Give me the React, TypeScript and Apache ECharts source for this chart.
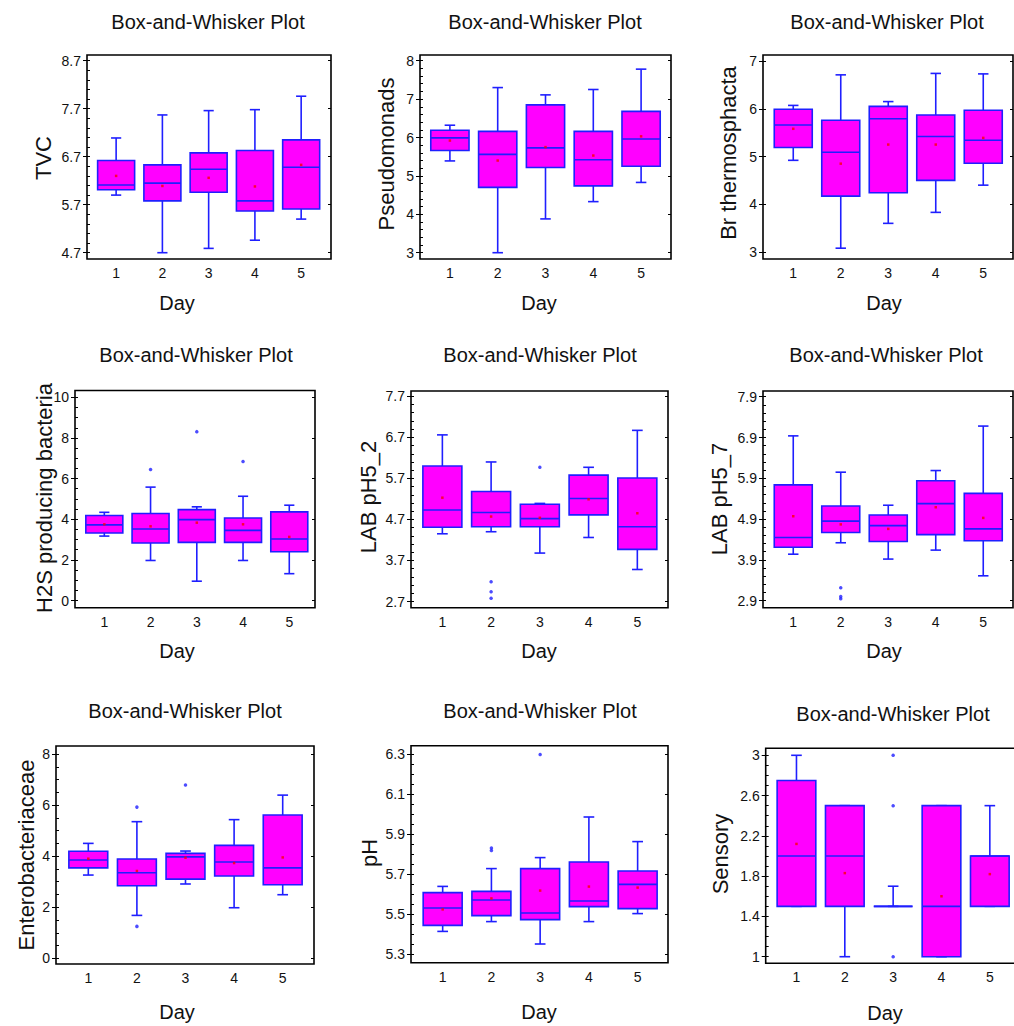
import React, { useEffect, useRef } from 'react';
import * as echarts from 'echarts';

// ---------- data ----------
const DAYS = ['1', '2', '3', '4', '5'];
const TITLE = 'Box-and-Whisker Plot';
const X_NAME = 'Day';

// each box: [min whisker, Q1, median, Q3, max whisker]
const TVC_STATS = [[5.90, 6.01, 6.11, 6.62, 7.09], [4.70, 5.78, 6.15, 6.53, 7.57], [4.79, 5.96, 6.44, 6.78, 7.66], [4.96, 5.57, 5.78, 6.83, 7.68], [5.40, 5.61, 6.48, 7.05, 7.96]];
const TVC_MEANS = [6.30, 6.09, 6.26, 6.08, 6.53];
const TVC_OUTLIERS: number[][] = [];
const TVC_TICKS = [4.7, 8.7, 1, 5]; // first tick, last tick, step, minor splits

const PSEUDO_STATS = [[5.39, 5.66, 5.99, 6.19, 6.32], [3.00, 4.70, 5.56, 6.16, 7.30], [3.88, 5.22, 5.73, 6.85, 7.11], [4.33, 4.74, 5.42, 6.16, 7.25], [4.83, 5.25, 5.96, 6.68, 7.78]];
const PSEUDO_MEANS = [5.92, 5.40, 5.75, 5.53, 6.03];
const PSEUDO_OUTLIERS: number[][] = [];
const PSEUDO_TICKS = [3, 8, 1, 5];

const BRT_STATS = [[4.92, 5.19, 5.66, 5.99, 6.07], [3.08, 4.17, 5.09, 5.76, 6.71], [3.60, 4.24, 5.79, 6.05, 6.15], [3.83, 4.50, 5.42, 5.87, 6.74], [4.40, 4.86, 5.34, 5.97, 6.73]];
const BRT_MEANS = [5.58, 4.85, 5.25, 5.25, 5.39];
const BRT_OUTLIERS: number[][] = [];
const BRT_TICKS = [3, 7, 1, 1];

const H2S_STATS = [[3.17, 3.32, 3.72, 4.18, 4.34], [1.97, 2.83, 3.52, 4.28, 5.58], [0.95, 2.86, 3.98, 4.47, 4.61], [1.97, 2.86, 3.45, 4.06, 5.13], [1.32, 2.40, 3.03, 4.36, 4.69]];
const H2S_MEANS = [3.75, 3.65, 3.83, 3.75, 3.13];
const H2S_OUTLIERS = [[1, 6.45], [2, 8.31], [3, 6.84]];
const H2S_TICKS = [0, 10, 2, 4];

const LAB52_STATS = [[4.35, 4.51, 4.93, 6.00, 6.76], [4.40, 4.52, 4.87, 5.38, 6.10], [3.88, 4.52, 4.72, 5.07, 5.09], [4.26, 4.81, 5.21, 5.78, 5.97], [3.48, 3.97, 4.52, 5.71, 6.87]];
const LAB52_MEANS = [5.23, 4.77, 4.74, 5.19, 4.85];
const LAB52_OUTLIERS = [[1, 3.18], [1, 2.94], [1, 2.78], [2, 5.97]];
const LAB52_TICKS = [2.7, 7.7, 1, 5];

const LAB57_STATS = [[4.04, 4.21, 4.45, 5.74, 6.94], [4.32, 4.57, 4.85, 5.22, 6.05], [3.92, 4.35, 4.74, 5.00, 5.24], [4.14, 4.52, 5.28, 5.84, 6.09], [3.51, 4.37, 4.66, 5.53, 7.18]];
const LAB57_MEANS = [4.97, 4.77, 4.66, 5.19, 4.93];
const LAB57_OUTLIERS = [[1, 3.22], [1, 3.0], [1, 2.95]];
const LAB57_TICKS = [2.9, 7.9, 1, 5];

const ENT_STATS = [[3.26, 3.54, 3.85, 4.19, 4.50], [1.68, 2.84, 3.35, 3.89, 5.35], [2.91, 3.10, 3.97, 4.11, 4.20], [1.98, 3.22, 3.77, 4.42, 5.43], [2.49, 2.88, 3.54, 5.61, 6.39]];
const ENT_MEANS = [3.90, 3.42, 3.94, 3.73, 3.95];
const ENT_OUTLIERS = [[1, 5.92], [1, 1.25], [2, 6.79]];
const ENT_TICKS = [0, 8, 2, 4];

const PH_STATS = [[5.413, 5.443, 5.530, 5.607, 5.638], [5.462, 5.492, 5.570, 5.613, 5.727], [5.350, 5.472, 5.505, 5.727, 5.782], [5.462, 5.537, 5.565, 5.760, 5.985], [5.502, 5.527, 5.648, 5.715, 5.862]];
const PH_MEANS = [5.523, 5.578, 5.617, 5.637, 5.632];
const PH_OUTLIERS = [[1, 5.830], [1, 5.817], [2, 6.298]];
const PH_TICKS = [5.3, 6.3, 0.2, 4];

const SENS_STATS = [[1.5, 1.5, 2.0, 2.75, 3.0], [1.0, 1.5, 2.0, 2.5, 2.5], [1.5, 1.5, 1.5, 1.5, 1.7], [1.0, 1.0, 1.5, 2.5, 2.5], [1.5, 1.5, 2.0, 2.0, 2.5]];
const SENS_MEANS: (number | null)[] = [2.12, 1.83, null, 1.60, 1.82];
const SENS_OUTLIERS = [[2, 3.0], [2, 2.5], [2, 1.0]];
const SENS_TICKS = [1, 3, 0.4, 4];

const PANELS = [
  { yName: 'TVC', stats: TVC_STATS, means: TVC_MEANS, outliers: TVC_OUTLIERS, ticks: TVC_TICKS },
  { yName: 'Pseudomonads', stats: PSEUDO_STATS, means: PSEUDO_MEANS, outliers: PSEUDO_OUTLIERS, ticks: PSEUDO_TICKS },
  { yName: 'Br thermosphacta', stats: BRT_STATS, means: BRT_MEANS, outliers: BRT_OUTLIERS, ticks: BRT_TICKS },
  { yName: 'H2S producing bacteria', stats: H2S_STATS, means: H2S_MEANS, outliers: H2S_OUTLIERS, ticks: H2S_TICKS },
  { yName: 'LAB pH5_2', stats: LAB52_STATS, means: LAB52_MEANS, outliers: LAB52_OUTLIERS, ticks: LAB52_TICKS },
  { yName: 'LAB pH5_7', stats: LAB57_STATS, means: LAB57_MEANS, outliers: LAB57_OUTLIERS, ticks: LAB57_TICKS },
  { yName: 'Enterobacteriaceae', stats: ENT_STATS, means: ENT_MEANS, outliers: ENT_OUTLIERS, ticks: ENT_TICKS },
  { yName: 'pH', stats: PH_STATS, means: PH_MEANS, outliers: PH_OUTLIERS, ticks: PH_TICKS },
  { yName: 'Sensory', stats: SENS_STATS, means: SENS_MEANS, outliers: SENS_OUTLIERS, ticks: SENS_TICKS },
];

// ---------- layout (pixels) ----------
// frame: [left, top, right, bottom]; grid: [left, top, right, bottom] (grid = first/last tick & box band edges)
const LAYOUT = [
  { frame: [87, 55, 331, 259], grid: [93, 60.7, 324.3, 252.7], title: [208, 22], yName: [43, 158], xName: [177, 303] },
  { frame: [420, 55, 671, 259], grid: [426, 60.7, 665, 252.7], title: [545, 22], yName: [386, 154], xName: [539, 303] },
  { frame: [763, 55, 1013, 259], grid: [769.5, 61, 1007, 252], title: [887, 22], yName: [728, 153], xName: [884, 303] },
  { frame: [75, 390.5, 315, 607.7], grid: [81.2, 397.3, 312.4, 600.5], title: [196, 355], yName: [44, 498], xName: [177, 651] },
  { frame: [411, 391, 668, 607.7], grid: [418, 396.3, 661.7, 601.5], title: [540, 355], yName: [368, 497], xName: [539, 651] },
  { frame: [763, 391, 1013, 607.7], grid: [769.5, 396.7, 1007, 600.7], title: [886, 355], yName: [719, 499], xName: [884, 651] },
  { frame: [56, 746, 314, 964], grid: [64, 754, 307, 958.3], title: [185, 711], yName: [26, 855], xName: [177, 1012] },
  { frame: [411, 745.7, 668, 962.7], grid: [418.3, 754, 662, 954], title: [540, 711], yName: [369, 853], xName: [539, 1012] },
  { frame: [765.7, 748.3, 1026, 963.3], grid: [772.3, 755.3, 1016, 956.7], title: [893, 714], yName: [720, 854], xName: [885, 1013] },
];

const FONT = '"Liberation Sans", Arial, Helvetica, sans-serif';
const BLUE = '#1f1fff';
const MAGENTA = '#ff00ff';
const TEXT = '#111111';

function buildOption() {
  const grid: any[] = [];
  const xAxis: any[] = [];
  const yAxis: any[] = [];
  const series: any[] = [];
  const graphic: any[] = [];

  PANELS.forEach((p, i) => {
    const L = LAYOUT[i];
    const [fl, ft, fr, fb] = L.frame;
    const [gl, gt, gr, gb] = L.grid;
    const [tMin, tMax, step, minor] = p.ticks;

    grid.push({ left: gl, top: gt, width: gr - gl, height: gb - gt, containLabel: false });

    xAxis.push({
      gridIndex: i,
      type: 'category',
      data: DAYS,
      boundaryGap: true,
      position: 'bottom',
      offset: fb - gb,
      axisLine: { show: false, onZero: false },
      axisTick: { show: false },
      axisLabel: { margin: 7, fontSize: 14, color: TEXT, fontFamily: FONT },
      splitLine: { show: false },
    });

    const base = {
      gridIndex: i,
      type: 'value',
      min: tMin,
      max: tMax,
      interval: step,
      splitLine: { show: false },
      axisLine: { show: false, onZero: false },
    };
    // left: labels + outward major ticks
    yAxis.push({
      ...base,
      position: 'left',
      offset: gl - fl,
      axisTick: { show: true, inside: false, length: 4, lineStyle: { color: '#000', width: 1 } },
      axisLabel: { show: true, margin: 6, fontSize: 14, color: TEXT, fontFamily: FONT },
    });
    // left: inward major + minor ticks
    yAxis.push({
      ...base,
      position: 'left',
      offset: gl - fl,
      axisTick: { show: true, inside: true, length: 3, lineStyle: { color: '#000', width: 1 } },
      minorTick: { show: minor > 1, splitNumber: minor, length: 3, lineStyle: { color: '#000', width: 1 } },
      axisLabel: { show: false },
    });
    // right: inward major ticks
    yAxis.push({
      ...base,
      position: 'right',
      offset: fr - gr,
      axisTick: { show: true, inside: true, length: 3, lineStyle: { color: '#000', width: 1 } },
      axisLabel: { show: false },
    });

    const yIdx = i * 3;
    series.push({
      type: 'custom',
      xAxisIndex: i,
      yAxisIndex: yIdx,
      data: p.stats.map((s, k) => [k, ...s]),
      encode: { x: 0, y: [1, 2, 3, 4, 5] },
      z: 2,
      renderItem: (params: any, api: any) => {
        const k = api.value(0);
        const pLo = api.coord([k, api.value(1)]);
        const pQ1 = api.coord([k, api.value(2)]);
        const pMed = api.coord([k, api.value(3)]);
        const pQ3 = api.coord([k, api.value(4)]);
        const pHi = api.coord([k, api.value(5)]);
        const band = api.size([1, 0])[0];
        const half = band * 0.4;
        const cap = band * 0.11;
        const cx = pMed[0];
        const ls = { stroke: BLUE, lineWidth: 1.6 };
        return {
          type: 'group',
          children: [
            { type: 'line', shape: { x1: cx, y1: pQ3[1], x2: cx, y2: pHi[1] }, style: ls },
            { type: 'line', shape: { x1: cx, y1: pQ1[1], x2: cx, y2: pLo[1] }, style: ls },
            { type: 'line', shape: { x1: cx - cap, y1: pHi[1], x2: cx + cap, y2: pHi[1] }, style: ls },
            { type: 'line', shape: { x1: cx - cap, y1: pLo[1], x2: cx + cap, y2: pLo[1] }, style: ls },
            {
              type: 'rect',
              shape: { x: cx - half, y: pQ3[1], width: half * 2, height: pQ1[1] - pQ3[1] },
              style: { fill: MAGENTA, stroke: BLUE, lineWidth: 1.6 },
            },
            { type: 'line', shape: { x1: cx - half, y1: pMed[1], x2: cx + half, y2: pMed[1] }, style: ls },
          ],
        };
      },
    });
    series.push({
      type: 'scatter',
      xAxisIndex: i,
      yAxisIndex: yIdx,
      data: p.outliers,
      symbol: 'circle',
      symbolSize: 3.5,
      itemStyle: { color: BLUE },
      clip: false,
      z: 4,
    });
    series.push({
      type: 'scatter',
      xAxisIndex: i,
      yAxisIndex: yIdx,
      data: p.means.map((v, k) => (v == null ? null : [k, v])).filter((d) => d != null),
      symbol: 'rect',
      symbolSize: 2.5,
      itemStyle: { color: '#ff0000' },
      clip: false,
      z: 5,
    });

    graphic.push({
      type: 'rect',
      silent: true,
      z: 10,
      shape: { x: fl, y: ft, width: fr - fl, height: fb - ft },
      style: { fill: 'none', stroke: '#000', lineWidth: 1.6 },
    });
    graphic.push({
      type: 'text',
      silent: true,
      x: L.title[0],
      y: L.title[1],
      style: {
        text: TITLE, fontSize: 20, fontFamily: FONT, fill: TEXT,
        align: 'center', verticalAlign: 'middle', textAlign: 'center', textVerticalAlign: 'middle',
      },
    });
    graphic.push({
      type: 'text',
      silent: true,
      x: L.xName[0],
      y: L.xName[1],
      style: {
        text: X_NAME, fontSize: 20, fontFamily: FONT, fill: TEXT,
        align: 'center', verticalAlign: 'middle', textAlign: 'center', textVerticalAlign: 'middle',
      },
    });
    graphic.push({
      type: 'text',
      silent: true,
      x: L.yName[0],
      y: L.yName[1],
      rotation: Math.PI / 2,
      style: {
        text: p.yName, fontSize: 22, fontFamily: FONT, fill: TEXT,
        align: 'center', verticalAlign: 'middle', textAlign: 'center', textVerticalAlign: 'middle',
      },
    });
  });

  return {
    animation: false,
    backgroundColor: '#ffffff',
    textStyle: { fontFamily: FONT },
    grid,
    xAxis,
    yAxis,
    series,
    graphic,
  };
}

export default function App() {
  const ref = useRef<HTMLDivElement>(null);
  useEffect(() => {
    if (!ref.current) return;
    const chart = echarts.init(ref.current, undefined, { renderer: 'svg' });
    chart.setOption(buildOption() as any);
    return () => chart.dispose();
  }, []);
  return (
    <div
      ref={ref}
      style={{ position: 'absolute', left: 0, top: 0, width: 1014, height: 1026, background: '#fff' }}
    />
  );
}
